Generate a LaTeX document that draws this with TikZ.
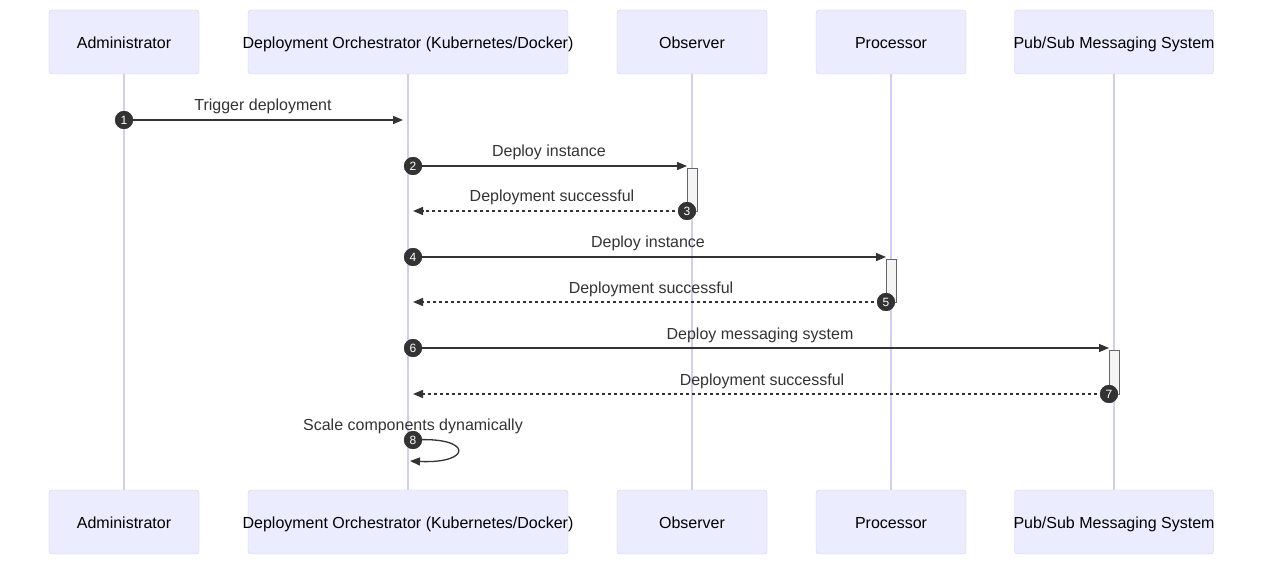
\documentclass[tikz,border=0pt]{standalone}
\usepackage{fontspec}
\setmainfont{Liberation Sans}
\usetikzlibrary{arrows.meta}
\definecolor{actfill}{HTML}{ECECFF}
\definecolor{actline}{HTML}{D6CBF3}
\definecolor{ink}{HTML}{333333}
\definecolor{actvfill}{HTML}{F4F4F4}
\definecolor{actvline}{HTML}{666666}
\tikzset{
  actor/.style={draw=actline, fill=actfill, rounded corners=3pt, minimum height=64pt,
    inner sep=0pt, font=\fontsize{16}{19}\selectfont, text=black, text height=13.5pt, text depth=0pt},
  lifeline/.style={draw=actline, line width=1.3pt},
  msg/.style={draw=ink, line width=1.3pt, -{Triangle[length=10pt,width=8pt]}},
  reply/.style={msg, dash pattern=on 3pt off 3pt},
  msglabel/.style={anchor=base, text=ink, inner sep=0pt, font=\fontsize{16}{19}\selectfont},
  seqnum/.style={circle, fill=ink, text=white, inner sep=0pt, minimum size=18pt,
    font=\fontsize{12}{14}\selectfont},
  actv/.style={draw=actvline, fill=actvfill, line width=0.8pt}
}
\newcommand{\ctext}[1]{\makebox[0pt]{#1}}
\begin{document}
\begin{tikzpicture}[x=1pt,y=-1pt]
\useasboundingbox (0,0) rectangle (1271,569);
% actors
\node[actor, minimum width=150pt] (tAdm) at (124,42) {\ctext{Administrator}};
\node[actor, minimum width=320pt] (tOrc) at (408,42) {\ctext{Deployment Orchestrator (Kubernetes/Docker)}};
\node[actor, minimum width=150pt] (tObs) at (692,42) {\ctext{Observer}};
\node[actor, minimum width=150pt] (tPro) at (891,42) {\ctext{Processor}};
\node[actor, minimum width=199pt] (tPub) at (1114,42) {\ctext{Pub/Sub Messaging System}};
\node[actor, minimum width=150pt] (bAdm) at (124,522) {\ctext{Administrator}};
\node[actor, minimum width=320pt] (bOrc) at (408,522) {\ctext{Deployment Orchestrator (Kubernetes/Docker)}};
\node[actor, minimum width=150pt] (bObs) at (692,522) {\ctext{Observer}};
\node[actor, minimum width=150pt] (bPro) at (891,522) {\ctext{Processor}};
\node[actor, minimum width=199pt] (bPub) at (1114,522) {\ctext{Pub/Sub Messaging System}};
% lifelines
\draw[lifeline] (tAdm.south) -- (bAdm.north);
\draw[lifeline] (tOrc.south) -- (bOrc.north);
\draw[lifeline] (tObs.south) -- (bObs.north);
\draw[lifeline] (tPro.south) -- (bPro.north);
\draw[lifeline] (tPub.south) -- (bPub.north);
% activations
\draw[actv] (687,168) rectangle (697,211);
\draw[actv] (886,259) rectangle (896,302);
\draw[actv] (1109,350) rectangle (1119,394);
% sequence number nodes
\node[seqnum] (n1) at (124,120) {1};
\node[seqnum] (n2) at (413,166) {2};
\node[seqnum] (n3) at (687,211) {3};
\node[seqnum] (n4) at (413,257) {4};
\node[seqnum] (n5) at (886,302) {5};
\node[seqnum] (n6) at (413,348) {6};
\node[seqnum] (n7) at (1109,394) {7};
\node[seqnum] (n8) at (413,440) {8};
% end points
\coordinate (e1) at (403,120);
\coordinate (e2) at (687,166);
\coordinate (e3) at (413,211);
\coordinate (e4) at (886,257);
\coordinate (e5) at (413,302);
\coordinate (e6) at (1109,348);
\coordinate (e7) at (413,394);
\coordinate (e8) at (410,461);
% messages
\draw[msg] (n1.center) -- (e1);
\draw[msg] (n2.center) -- (e2);
\draw[reply] (n3.center) -- (e3);
\draw[msg] (n4.center) -- (e4);
\draw[reply] (n5.center) -- (e5);
\draw[msg] (n6.center) -- (e6);
\draw[reply] (n7.center) -- (e7);
\draw[msg] (n8.center) .. controls (473,436) and (473,464) .. (e8);
% redraw numbers on top
\foreach \p/\t in {n1/1,n2/2,n3/3,n4/4,n5/5,n6/6,n7/7,n8/8}{
  \node[seqnum] at (\p) {\t};
}
% labels
\node[msglabel] (l1) at (263,110.5) {Trigger deployment};
\node[msglabel] (l2) at (549,156.5) {Deploy instance};
\node[msglabel] (l3) at (552,202) {Deployment successful};
\node[msglabel] (l4) at (648,247.5) {Deploy instance};
\node[msglabel] (l5) at (651,293) {Deployment successful};
\node[msglabel] (l6) at (760,339) {Deploy messaging system};
\node[msglabel] (l7) at (762,385) {Deployment successful};
\node[msglabel] (l8) at (413,430.5) {Scale components dynamically};
\end{tikzpicture}
\end{document}
